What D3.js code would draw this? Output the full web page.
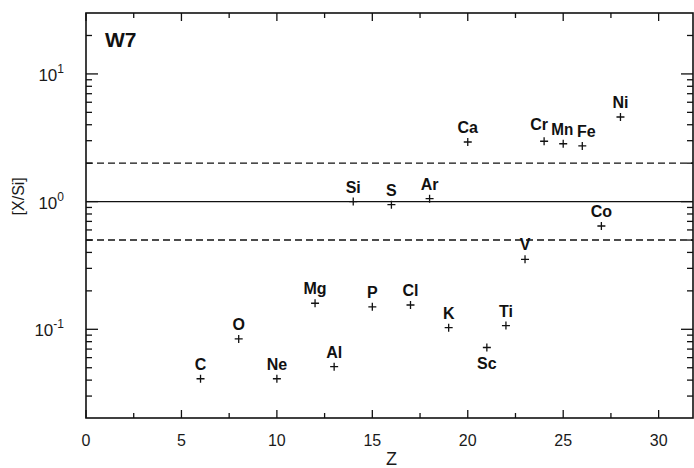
<!DOCTYPE html>
<html>
<head>
<meta charset="utf-8">
<script src="https://cdn.jsdelivr.net/npm/d3@7"></script>
<style>
  body { margin: 0; background: #fff; }
  svg { display: block; }
  .tick-label { font-family: 'Liberation Sans', Arial, sans-serif; font-weight: normal; fill: #1a1a1a; }
  .elem { font-family: 'Liberation Sans', Arial, sans-serif; font-weight: bold; font-size: 16px; fill: #111; }
</style>
</head>
<body>
<div id="container"></div>
<script>
// element labels, atomic number Z and abundance ratio [X/Si]
const elements = ['C', 'O', 'Ne', 'Mg', 'Al', 'Si', 'P', 'S', 'Cl', 'Ar', 'K', 'Ca', 'Sc', 'Ti', 'V', 'Cr', 'Mn', 'Fe', 'Co', 'Ni'];
const zValues = [6, 8, 10, 12, 13, 14, 15, 16, 17, 18, 19, 20, 21, 22, 23, 24, 25, 26, 27, 28];
const ratios = [0.041, 0.084, 0.041, 0.16, 0.051, 1.0, 0.15, 0.947, 0.155, 1.055, 0.103, 2.93, 0.072, 0.107, 0.353, 2.97, 2.84, 2.73, 0.644, 4.6];
// labels drawn below the marker
const labelsBelow = ['Sc'];
const xTicks = [0, 5, 10, 15, 20, 25, 30];
const xMinorTicks = [2.5, 7.5, 12.5, 17.5, 22.5, 27.5];
const yDecades = [0.1, 1, 10];
const yDecadeLabels = ['-1', '0', '1'];
const refLines = [{ v: 2, dash: '7,4' }, { v: 1, dash: null }, { v: 0.5, dash: '7,4' }];

const width = 694, height = 468;
const margin = { left: 86, right: 693, top: 13, bottom: 418 };

const svg = d3.select('#container').append('svg')
  .attr('width', width)
  .attr('height', height);

const x = d3.scaleLinear().domain([0, 31.8]).range([margin.left, margin.right]);
const y = d3.scaleLog().domain([0.0202, 30]).range([margin.bottom, margin.top]);

// minor ticks for log axis 2..9 per decade
let yMinor = [];
[0.01, 0.1, 1, 10].forEach(d => {
  for (let k = 2; k <= 9; k++) {
    const v = d * k;
    if (v > y.domain()[0] && v < y.domain()[1]) yMinor.push(v);
  }
});

const frame = svg.append('g').attr('stroke', '#111').attr('fill', 'none');
frame.append('rect')
  .attr('x', margin.left).attr('y', margin.top)
  .attr('width', margin.right - margin.left).attr('height', margin.bottom - margin.top)
  .attr('stroke-width', 1.6);

// x ticks, inward on bottom and top
function xTick(vals, len) {
  vals.forEach(v => {
    frame.append('line').attr('x1', x(v)).attr('x2', x(v)).attr('y1', margin.bottom).attr('y2', margin.bottom - len).attr('stroke-width', 1.3);
    frame.append('line').attr('x1', x(v)).attr('x2', x(v)).attr('y1', margin.top).attr('y2', margin.top + len).attr('stroke-width', 1.3);
  });
}
xTick(xTicks, 8);
xTick(xMinorTicks, 5);

function yTick(vals, len) {
  vals.forEach(v => {
    frame.append('line').attr('x1', margin.left).attr('x2', margin.left + len).attr('y1', y(v)).attr('y2', y(v)).attr('stroke-width', 1.3);
    frame.append('line').attr('x1', margin.right).attr('x2', margin.right - len).attr('y1', y(v)).attr('y2', y(v)).attr('stroke-width', 1.3);
  });
}
yTick(yDecades, 12);
yTick(yMinor, 6);

// reference lines
refLines.forEach(r => {
  svg.append('line')
    .attr('x1', margin.left).attr('x2', margin.right)
    .attr('y1', y(r.v)).attr('y2', y(r.v))
    .attr('stroke', '#111')
    .attr('stroke-width', 1.4)
    .attr('stroke-dasharray', r.dash);
});

// tick labels
svg.selectAll('.xl').data(xTicks).enter()
  .append('text')
  .attr('class', 'tick-label')
  .attr('x', d => x(d))
  .attr('y', 446)
  .attr('text-anchor', 'middle')
  .style('font-size', '16px')
  .text(d => d);

const yl = svg.selectAll('.yl').data(yDecades).enter()
  .append('text')
  .attr('class', 'tick-label')
  .attr('x', 64)
  .attr('y', d => y(d) + 7)
  .attr('text-anchor', 'end')
  .style('font-size', '17px');
yl.append('tspan').text('10');
yl.append('tspan')
  .attr('dy', -8)
  .style('font-size', '12px')
  .text((d, i) => yDecadeLabels[i]);

// axis titles
svg.append('text')
  .attr('class', 'tick-label')
  .attr('x', x(16))
  .attr('y', 465)
  .attr('text-anchor', 'middle')
  .style('font-size', '18px')
  .text('Z');

svg.append('text')
  .attr('class', 'tick-label')
  .attr('transform', `translate(24, ${y(1.1)}) rotate(-90)`)
  .attr('text-anchor', 'middle')
  .style('font-size', '16px')
  .text('[X/Si]');

svg.append('text')
  .attr('x', 105)
  .attr('y', 47)
  .style('font-family', "'Liberation Sans', Arial, sans-serif")
  .style('font-weight', 'bold')
  .style('font-size', '21px')
  .attr('fill', '#111')
  .text('W7');

// data markers
const pts = svg.append('g').selectAll('g')
  .data(elements.map((e, i) => ({ name: e, z: zValues[i], r: ratios[i] })))
  .enter().append('g')
  .attr('transform', d => `translate(${x(d.z)},${y(d.r)})`);

pts.append('path')
  .attr('d', 'M-4,0H4M0,-4V4')
  .attr('stroke', '#111')
  .attr('stroke-width', 1.3);

// crowded labels around Cr/Mn/Fe get nudged apart
const nudge = { Cr: [-5, -2], Mn: [-1, 0], Fe: [4, 0] };

pts.append('text')
  .attr('class', 'elem')
  .attr('text-anchor', 'middle')
  .attr('textLength', d => d.name === 'Mn' ? 22 : null)
  .attr('lengthAdjust', 'spacingAndGlyphs')
  .attr('x', d => nudge[d.name] ? nudge[d.name][0] : 0)
  .attr('y', d => (labelsBelow.includes(d.name) ? 21 : -9) + (nudge[d.name] ? nudge[d.name][1] : 0))
  .text(d => d.name);
</script>
</body>
</html>
